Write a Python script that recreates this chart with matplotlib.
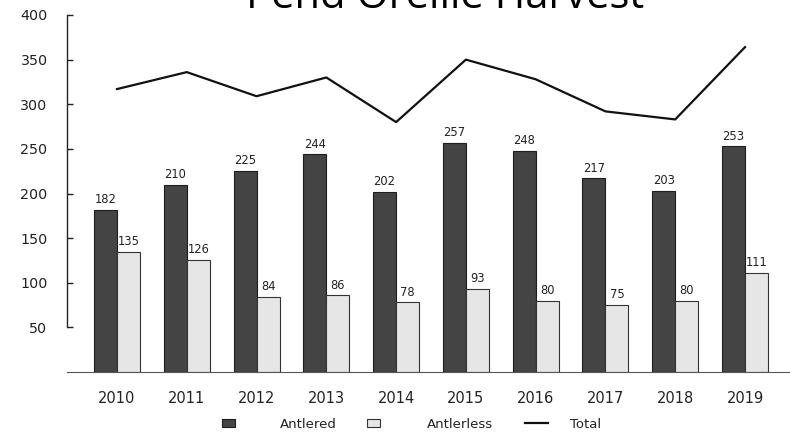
import matplotlib.pyplot as plt
import numpy as np

# data
years = ['2010', '2011', '2012', '2013', '2014', '2015', '2016', '2017', '2018', '2019']
antlered = [182, 210, 225, 244, 202, 257, 248, 217, 203, 253]
antlerless = [135, 126, 84, 86, 78, 93, 80, 75, 80, 111]
total = [317, 336, 309, 330, 280, 350, 328, 292, 283, 364]
yticks = [50, 100, 150, 200, 250, 300, 350, 400]

plt.rcParams['font.family'] = ['DejaVu Sans']

W, H = 790, 433
fig = plt.figure(figsize=(W / 100, H / 100), dpi=100)
ax = fig.add_axes([67 / W, 1 - 372 / H, (W - 67) / W, (372 - 15) / H])

x = np.arange(len(years))
w = 0.33

b1 = ax.bar(x - w / 2, antlered, w, color='#444444', edgecolor='#1e1e1e', linewidth=0.8, label='Antlered')
b2 = ax.bar(x + w / 2, antlerless, w, color='#e6e6e6', edgecolor='#333333', linewidth=0.8, label='Antlerless')
ln, = ax.plot(x, total, color='#111111', linewidth=1.6, label='Total')

# 数值标注
for i in range(len(years)):
    ax.text(x[i] - w / 2, antlered[i] + 7.5, str(antlered[i]), ha='center', va='baseline', fontsize=8.3, color='#222222')
    ax.text(x[i] + w / 2, antlerless[i] + 7.5, str(antlerless[i]), ha='center', va='baseline', fontsize=8.3, color='#222222')

ax.set_xlim(-50 / 69.8, 9 + 45 / 69.8)
ax.set_ylim(0, 400)

# 坐标轴
for s in ['top', 'right']:
    ax.spines[s].set_visible(False)
ax.spines['left'].set_bounds(50, 400)
ax.spines['left'].set_linewidth(1.0)
ax.spines['left'].set_color('#222222')
ax.spines['bottom'].set_linewidth(0.8)
ax.spines['bottom'].set_color('#555555')

ax.set_yticks(yticks)
ax.tick_params(axis='y', direction='in', length=4, width=1.0, pad=14, labelsize=10.3, colors='#222222')
ax.set_xticks(x)
ax.set_xticklabels(years)
ax.tick_params(axis='x', length=0, pad=13.5, labelsize=10.5, colors='#222222')

# 标题（顶部被裁掉，与原图一致）
fig.text(445 / W, 1 - 8.5 / H, 'Pend Oreille Harvest', ha='center', va='baseline',
         fontsize=30, family=['Open Sans', 'DejaVu Sans'], color='black')

# 图例：三个单项图例分别定位
fs = 9.5
em = fs * 100 / 72
leg_y = 1 - 424 / H
for h, x0, hl, pad in [(b1, 222, 13 / em, 45 / em), (b2, 367, 13 / em, 47 / em), (ln, 525, 23 / em, 22 / em)]:
    lg = fig.legend(handles=[h], loc='center left', bbox_to_anchor=(x0 / W, leg_y),
                    frameon=False, fontsize=fs, handlelength=hl, handleheight=8 / em,
                    handletextpad=pad, borderpad=0, borderaxespad=0)
    for t in lg.get_texts():
        t.set_color('#222222')

plt.savefig('out.png', dpi=100)
plt.close()
